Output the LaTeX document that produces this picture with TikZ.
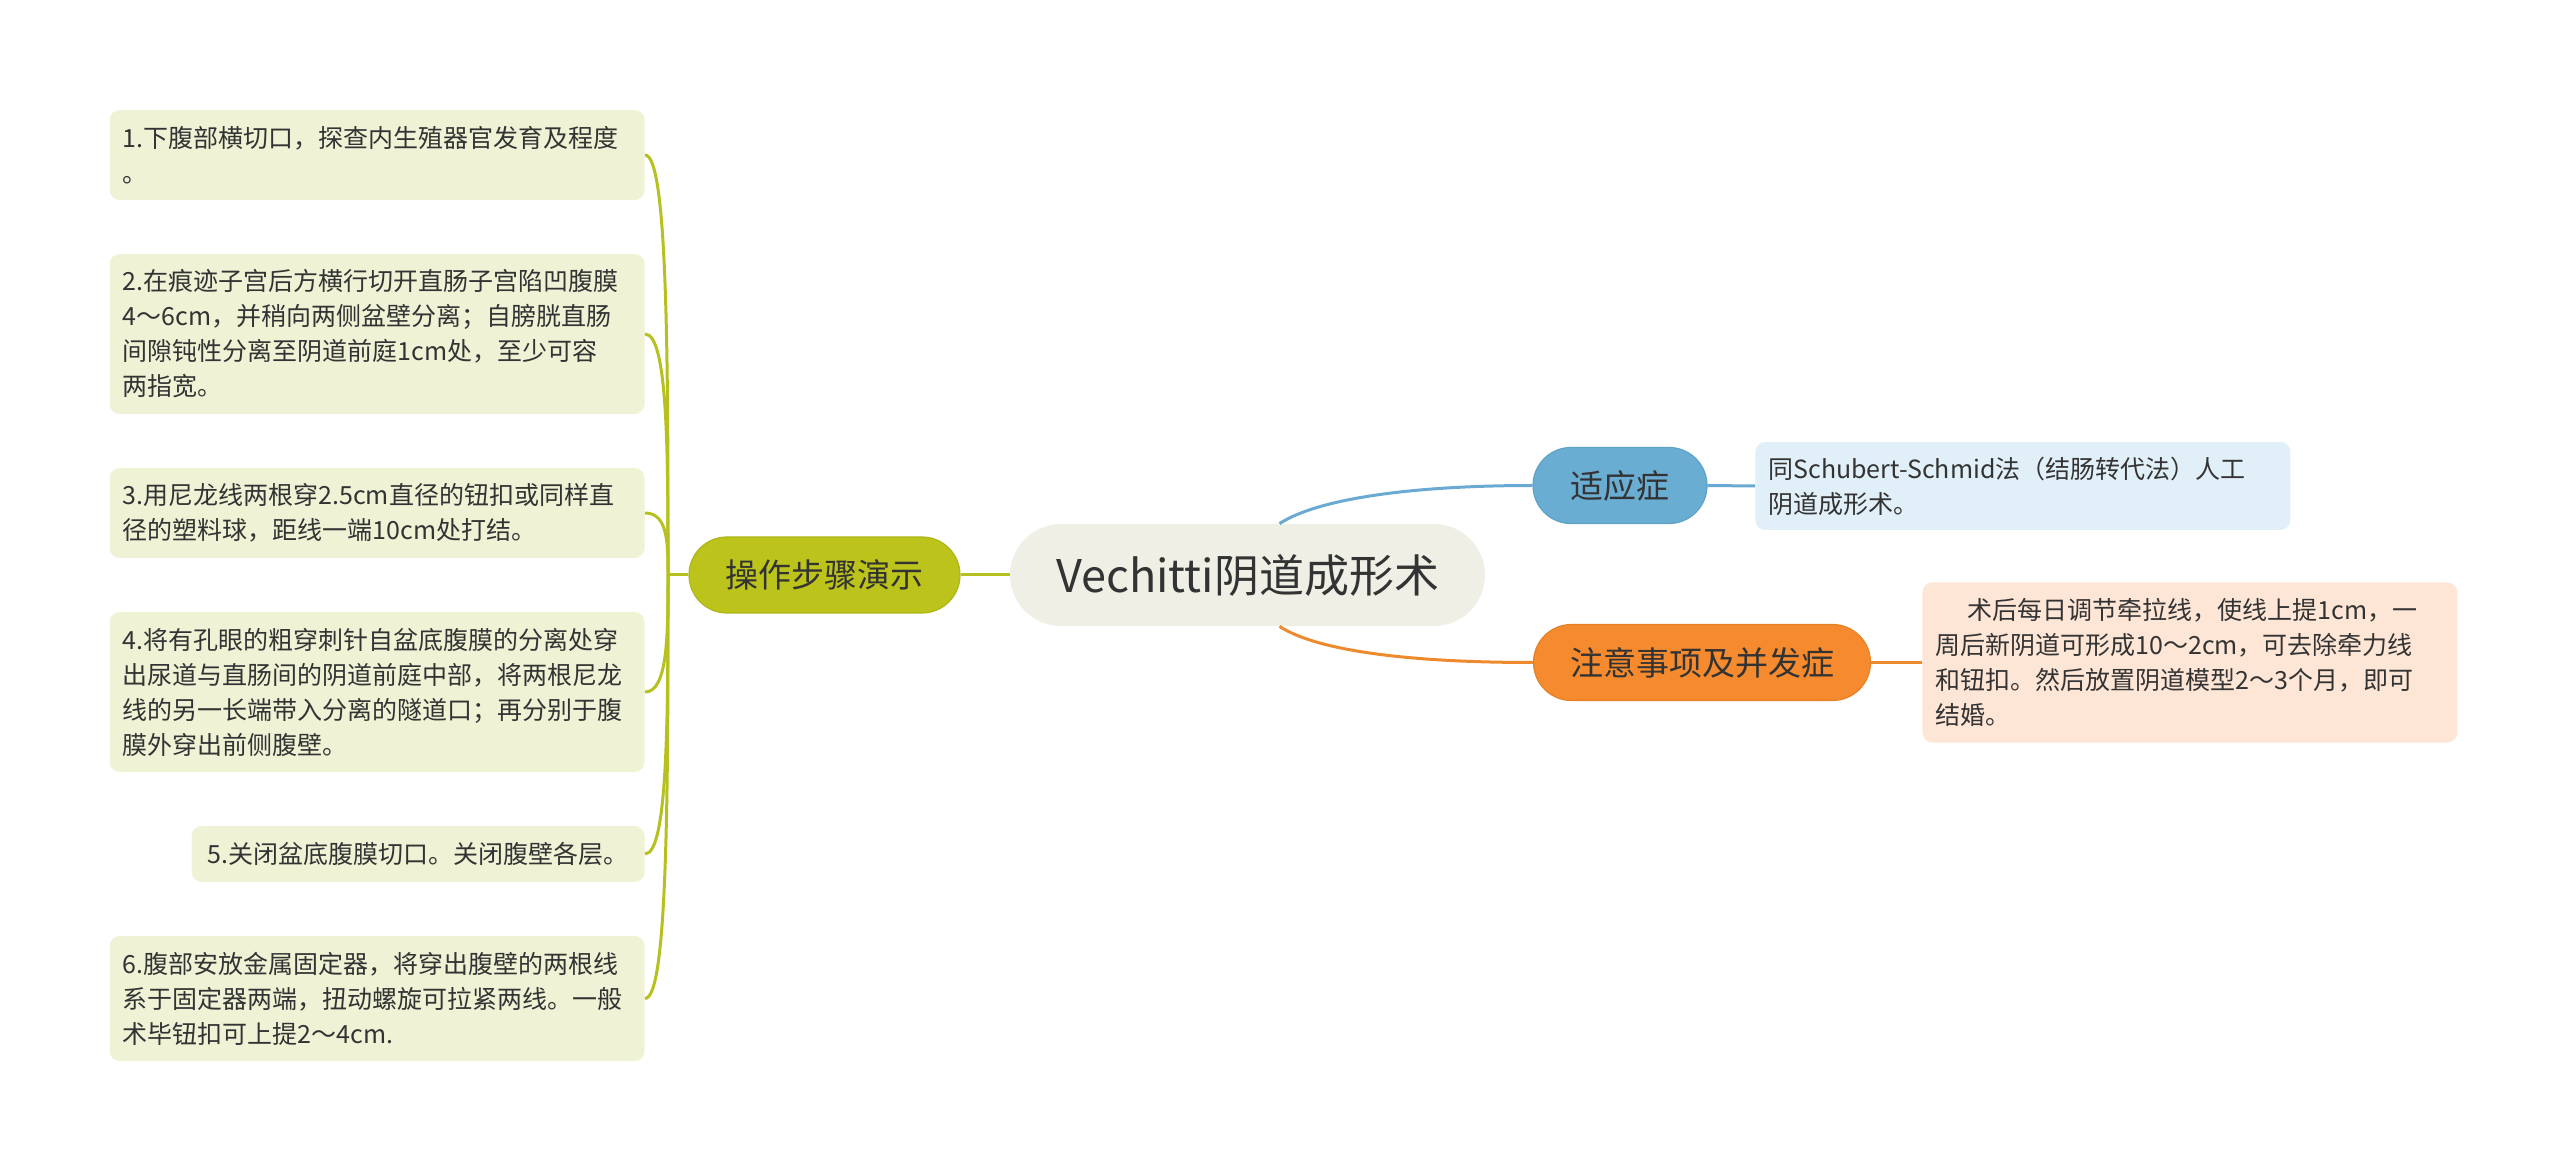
\documentclass[tikz,border=0pt]{standalone}
\usepackage{fontspec}
\setmainfont{Noto Sans CJK SC}
\usetikzlibrary{calc}
\definecolor{cText}{HTML}{333333}
\definecolor{cStep}{HTML}{EFF2D5}
\definecolor{cCenter}{HTML}{EFEFE6}
\definecolor{cOliveNode}{HTML}{BCC41B}
\definecolor{cOliveEdge}{HTML}{AEB61A}
\definecolor{cOliveLine}{HTML}{B6C11F}
\definecolor{cBlueNode}{HTML}{69ADD3}
\definecolor{cBlueEdge}{HTML}{5FA2C8}
\definecolor{cBlueLine}{HTML}{6AAAD2}
\definecolor{cBlueBox}{HTML}{E1EFF8}
\definecolor{cOrangeNode}{HTML}{F58B2E}
\definecolor{cOrangeEdge}{HTML}{E58027}
\definecolor{cOrangeLine}{HTML}{EE8A2E}
\definecolor{cOrangeBox}{HTML}{FDE6D6}
\begin{document}
\begin{tikzpicture}[x=0.5pt,y=-0.5pt,
  txt/.style={font=\fontsize{12.5pt}{17.5pt}\selectfont, text=cText},
  stepbox/.style={txt, fill=cStep, rounded corners=5pt, inner xsep=6.5pt, inner ysep=0pt,
    text width=254.5pt, align=left, anchor=east},
  infobox/.style={txt, rounded corners=5pt, inner xsep=6.5pt, inner ysep=0pt,
    text width=254.5pt, align=left, anchor=west},
  pill/.style={font=\fontsize{16.5pt}{20pt}\selectfont, text=cText, minimum height=38pt,
    rounded corners=19pt, inner xsep=0pt, line width=0.6pt},
  oline/.style={draw=cOliveLine, line width=1.5pt},
  bline/.style={draw=cBlueLine, line width=1.5pt},
  rline/.style={draw=cOrangeLine, line width=1.5pt}]
\useasboundingbox (0,0) rectangle (2560,1165);

% central topic
\node[fill=cCenter, rounded corners=25.5pt, minimum width=237.5pt, minimum height=51pt,
  inner sep=0pt, font=\fontsize{22.5pt}{26pt}\selectfont, text=cText] (c) at (1247.5,575) {Vechitti阴道成形术};

% main branches
\node[pill, fill=cOliveNode, draw=cOliveEdge, minimum width=135.5pt] (op) at (824.5,575) {操作步骤演示};
\node[pill, fill=cBlueNode, draw=cBlueEdge, minimum width=87pt] (sy) at (1620,485.5) {适应症};
\node[pill, fill=cOrangeNode, draw=cOrangeEdge, minimum width=168.5pt] (zy) at (1702,662.5) {注意事项及并发症};

% step boxes
\node[stepbox, minimum height=45pt] (s1) at (645,155) {1.下腹部横切口，探查内生殖器官发育及程度\\。};
\node[stepbox, minimum height=80pt] (s2) at (645,334) {2.在痕迹子宫后方横行切开直肠子宫陷凹腹膜\\4～6cm，并稍向两侧盆壁分离；自膀胱直肠\\间隙钝性分离至阴道前庭1cm处，至少可容\\两指宽。};
\node[stepbox, minimum height=45pt] (s3) at (645,513) {3.用尼龙线两根穿2.5cm直径的钮扣或同样直\\径的塑料球，距线一端10cm处打结。};
\node[stepbox, minimum height=80pt] (s4) at (645,692) {4.将有孔眼的粗穿刺针自盆底腹膜的分离处穿\\出尿道与直肠间的阴道前庭中部，将两根尼龙\\线的另一长端带入分离的隧道口；再分别于腹\\膜外穿出前侧腹壁。};
\node[txt, fill=cStep, rounded corners=5pt, inner xsep=6.5pt, inner ysep=0pt, anchor=east,
  minimum width=226.5pt, minimum height=28pt] (s5) at (645,854) {5.关闭盆底腹膜切口。关闭腹壁各层。};
\node[stepbox, minimum height=62.5pt] (s6) at (645,998.5) {6.腹部安放金属固定器，将穿出腹壁的两根线\\系于固定器两端，扭动螺旋可拉紧两线。一般\\术毕钮扣可上提2～4cm.};

% info boxes
\node[infobox, fill=cBlueBox, minimum height=44pt] (sybox) at (1755,486) {同Schubert-Schmid法（结肠转代法）人工\\阴道成形术。};
\node[infobox, fill=cOrangeBox, minimum height=80pt] (zybox) at (1922,662.5) {\hspace*{1.3em}术后每日调节牵拉线，使线上提1cm，一\\周后新阴道可形成10～2cm，可去除牵力线\\和钮扣。然后放置阴道模型2～3个月，即可\\结婚。};

% connectors: center -> left branch
\draw[oline] (c.west) -- (op.east);
\coordinate (hub) at (668,575);
\draw[oline] (op.west) -- (hub);
\foreach \s in {s1,s2,s3,s4,s5,s6}{
  \draw[oline] (hub) .. controls ($(hub)!0.5!(hub |- \s.east)$) and (hub |- \s.east) .. (\s.east);
}

% connectors: center -> right branches
\coordinate (cb) at ($(c.north)+(32,0)$);
\coordinate (co) at ($(c.south)+(32,0)$);
\draw[bline] (cb) .. controls +(40,-26) and ($(sy.west)+(-115,0)$) .. (sy.west);
\draw[rline] (co) .. controls +(40,26) and ($(zy.west)+(-115,0)$) .. (zy.west);
\draw[bline] (sy.east) -- (sybox.west);
\draw[rline] (zy.east) -- (zybox.west);
\end{tikzpicture}
\end{document}
